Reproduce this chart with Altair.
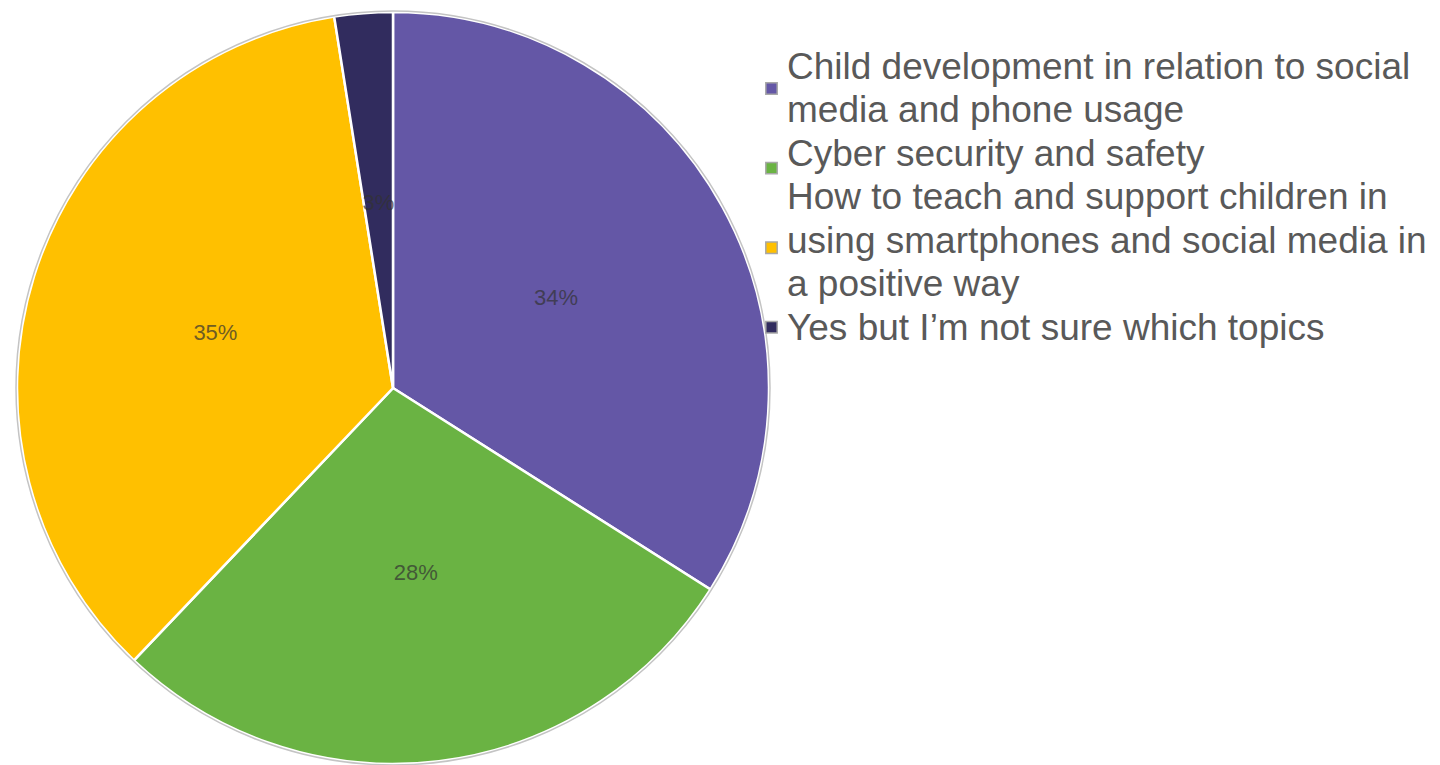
import altair as alt
import pandas as pd

categories = [
    "Child development in relation to social\nmedia and phone usage",
    "Cyber security and safety",
    "How to teach and support children in\nusing smartphones and social media in\na positive way",
    "Yes but I\u2019m not sure which topics",
]
values = [34.0, 28.1, 35.4, 2.5]
labels = ["34%", "28%", "35%", "3%"]
colors = ["#6457A6", "#6AB343", "#FFC000", "#312C5E"]

df = pd.DataFrame({
    "cat": categories,
    "value": values,
    "label": labels,
    "order": list(range(len(categories))),
})

# legend text lines, derived from the category names
lines = [ln for c in categories for ln in c.split("\n")]
lines_df = pd.DataFrame({"line": lines})

base = alt.Chart(df).encode(
    theta=alt.Theta("value:Q", stack=True),
    order=alt.Order("order:Q"),
)

pie = base.mark_arc(radius=376, stroke="white", strokeWidth=2.5).encode(
    color=alt.Color(
        "cat:N",
        sort=categories,
        scale=alt.Scale(domain=categories, range=colors),
        legend=alt.Legend(
            title=None,
            orient="none",
            legendX=765,
            legendY=82,
            offset=0,
            labelExpr="''",
            labelFontSize=1,
            symbolType="square",
            symbolSize=130,
            symbolStrokeColor="#a8a8a8",
            symbolStrokeWidth=1.5,
            rowPadding=60.6,
            padding=0,
        ),
    )
)

legend_text = alt.Chart(lines_df).mark_point(opacity=0).encode(
    shape=alt.Shape(
        "line:N",
        sort=lines,
        legend=alt.Legend(
            title=None,
            orient="none",
            legendX=750,
            legendY=49,
            offset=0,
            labelFont="Liberation Sans",
            labelFontSize=37,
            labelColor="#595959",
            labelLimit=900,
            labelOffset=0,
            symbolOpacity=0,
            symbolSize=1,
            symbolStrokeWidth=0,
            rowPadding=5.5,
            padding=0,
        ),
    )
)

outline_df = pd.DataFrame({"v": [1]})
outline = alt.Chart(outline_df).mark_arc(
    radius=377, filled=False, stroke="#c4c4c4", strokeWidth=1.5
).encode(theta=alt.Theta("v:Q"))

text = base.mark_text(
    radius=186, font="Liberation Sans", fontSize=22, color="#333333", opacity=0.7,
    align="center", baseline="middle",
).encode(text="label:N")

chart = (
    alt.layer(pie, outline, text, legend_text)
    .resolve_scale(theta="independent")
    .properties(width=786, height=776, padding=0, background="white")
    .configure_view(stroke=None)
)

chart.save("out.html", embed_options={"renderer": "svg", "actions": False})
